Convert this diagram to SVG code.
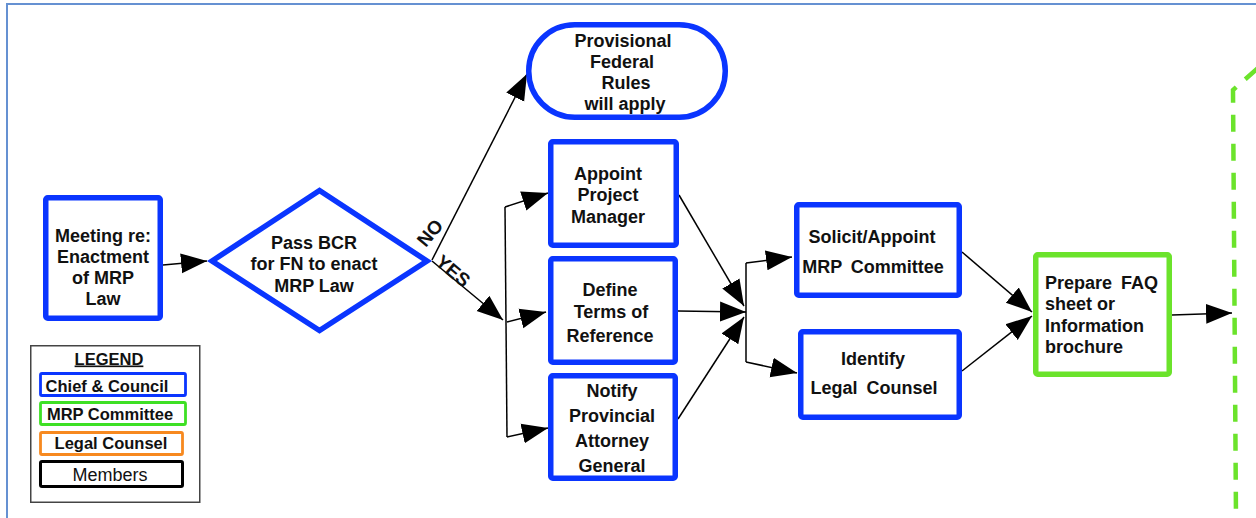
<svg xmlns="http://www.w3.org/2000/svg" width="1256" height="518" viewBox="0 0 1256 518">
  <style>
    .t { font-family: "Liberation Sans", Arial, sans-serif; font-weight: bold; font-size: 18px; fill: #111; }
    .c { text-anchor: middle; }
    .lg { font-size: 16.5px; }
    .reg { font-weight: normal; }
    .blue { fill: #fff; stroke: #0a35ff; stroke-width: 5.5; }
    .green { fill: #fff; stroke: #6be32b; stroke-width: 5.5; }
    .conn { fill: none; stroke: #000; stroke-width: 1.5; }
  </style>
  <defs>
    <marker id="arrow" markerUnits="userSpaceOnUse" markerWidth="28" markerHeight="22" refX="26" refY="11" orient="auto">
      <path d="M0,1 L26,11 L0,21 z" fill="#000"/>
    </marker>
  </defs>

  <rect width="1256" height="518" fill="#fff"/>
  <!-- page frame -->
  <path d="M7,518 L7,4 L1256,4" fill="none" stroke="#6591d2" stroke-width="2"/>

  <!-- connectors -->
  <g id="connectors">
    <path class="conn" d="M163,265 L207,261" marker-end="url(#arrow)"/>
    <path class="conn" d="M432,260 L527,74" marker-end="url(#arrow)"/>
    <path class="conn" d="M432,261 L503,320" marker-end="url(#arrow)"/>
    <path class="conn" d="M505,207 L507,437"/>
    <path class="conn" d="M505,207 L548,193" marker-end="url(#arrow)"/>
    <path class="conn" d="M507,322 L546,312" marker-end="url(#arrow)"/>
    <path class="conn" d="M507,437 L548,428" marker-end="url(#arrow)"/>
    <path class="conn" d="M679,195 L744,306" marker-end="url(#arrow)"/>
    <path class="conn" d="M678,311 L746,312" marker-end="url(#arrow)"/>
    <path class="conn" d="M678,419 L744,317" marker-end="url(#arrow)"/>
    <path class="conn" d="M746,263 L746,362"/>
    <path class="conn" d="M746,263 L792,257" marker-end="url(#arrow)"/>
    <path class="conn" d="M746,362 L797,373" marker-end="url(#arrow)"/>
    <path class="conn" d="M962,252 L1032,312" marker-end="url(#arrow)"/>
    <path class="conn" d="M962,371 L1032,316" marker-end="url(#arrow)"/>
    <path class="conn" d="M1172,315 L1232,313" marker-end="url(#arrow)"/>
    <!-- dashed boundary of the next stage -->
    <path d="M1258,68 L1233,90 L1236,518" fill="none" stroke="#6be32b" stroke-width="4.5" stroke-dasharray="17 12"/>
  </g>

  <!-- branch labels -->
  <text class="t c" style="font-size:19px" transform="translate(430,233) rotate(-50)" dominant-baseline="central">NO</text>
  <text class="t c" style="font-size:19px" transform="translate(453,271) rotate(40)" dominant-baseline="central">YES</text>

  <g id="meeting">
    <rect class="blue" x="45.75" y="197.75" width="114.5" height="120.5" rx="2"/>
    <text class="t c" x="103" y="241.5">Meeting re:</text>
    <text class="t c" x="103" y="262.5">Enactment</text>
    <text class="t c" x="103" y="283.5">of MRP</text>
    <text class="t c" x="103" y="304.5">Law</text>
  </g>

  <g id="decision">
    <polygon class="blue" points="212,261 319.5,190.5 427,261 319.5,330.5"/>
    <text class="t c" x="314" y="248.5">Pass BCR</text>
    <text class="t c" x="314" y="270">for FN to enact</text>
    <text class="t c" x="314" y="291.5">MRP Law</text>
  </g>

  <g id="federal-rules">
    <rect class="blue" x="528.75" y="24.75" width="196.5" height="92.5" rx="46"/>
    <text class="t c" x="623" y="46.5">Provisional</text>
    <text class="t c" x="622" y="67.5">Federal</text>
    <text class="t c" x="626" y="88.5">Rules</text>
    <text class="t c" x="625" y="109.5">will apply</text>
  </g>

  <g id="project-manager">
    <rect class="blue" x="550.75" y="141.75" width="125.5" height="103.5" rx="2"/>
    <text class="t c" x="608" y="179.5">Appoint</text>
    <text class="t c" x="608" y="200.5">Project</text>
    <text class="t c" x="608" y="222.5">Manager</text>
  </g>

  <g id="terms">
    <rect class="blue" x="550.75" y="258.75" width="124.5" height="103.5" rx="2"/>
    <text class="t c" x="610" y="295.5">Define</text>
    <text class="t c" x="611" y="317.5">Terms of</text>
    <text class="t c" x="610" y="342">Reference</text>
  </g>

  <g id="notify">
    <rect class="blue" x="550.75" y="375.75" width="124.5" height="102.5" rx="2"/>
    <text class="t c" x="612" y="397">Notify</text>
    <text class="t c" x="612" y="421.5">Provincial</text>
    <text class="t c" x="612" y="446.5">Attorney</text>
    <text class="t c" x="612" y="471.5">General</text>
  </g>

  <g id="committee">
    <rect class="blue" x="796.75" y="204.75" width="162.5" height="90.5" rx="2"/>
    <text class="t c" x="872" y="242.5">Solicit/Appoint</text>
    <text class="t c" x="873" y="272.5" word-spacing="4">MRP Committee</text>
  </g>

  <g id="legal-counsel">
    <rect class="blue" x="800.75" y="331.75" width="158.5" height="85.5" rx="2"/>
    <text class="t c" x="873" y="365">Identify</text>
    <text class="t c" x="874" y="394" word-spacing="4">Legal Counsel</text>
  </g>

  <g id="faq">
    <rect class="green" x="1035.75" y="254.75" width="133.5" height="119.5" rx="2"/>
    <text class="t" x="1045" y="289" word-spacing="4">Prepare FAQ</text>
    <text class="t" x="1045" y="310">sheet or</text>
    <text class="t" x="1045" y="331.5">Information</text>
    <text class="t" x="1045" y="352.5">brochure</text>
  </g>

  <g id="legend">
    <rect x="30.75" y="345.75" width="169" height="156.5" fill="#fff" stroke="#444" stroke-width="1.5"/>
    <text class="t c lg" x="109" y="364.5" text-decoration="underline">LEGEND</text>
    <rect x="40.5" y="373.5" width="145" height="22" rx="1.5" fill="#fff" stroke="#0a35ff" stroke-width="2.8"/>
    <text class="t c lg" x="107" y="391.5">Chief &amp; Council</text>
    <rect x="40.5" y="402.5" width="145" height="22" rx="1.5" fill="#fff" stroke="#3ee024" stroke-width="2.8"/>
    <text class="t c lg" x="110" y="420">MRP Committee</text>
    <rect x="40.5" y="432.5" width="142" height="22" rx="1.5" fill="#fff" stroke="#f7891f" stroke-width="2.8"/>
    <text class="t c lg" x="111" y="448.5">Legal Counsel</text>
    <rect x="40.5" y="461.5" width="142" height="25" rx="1.5" fill="#fff" stroke="#000" stroke-width="3"/>
    <text class="t c reg" x="110" y="481">Members</text>
  </g>
</svg>
